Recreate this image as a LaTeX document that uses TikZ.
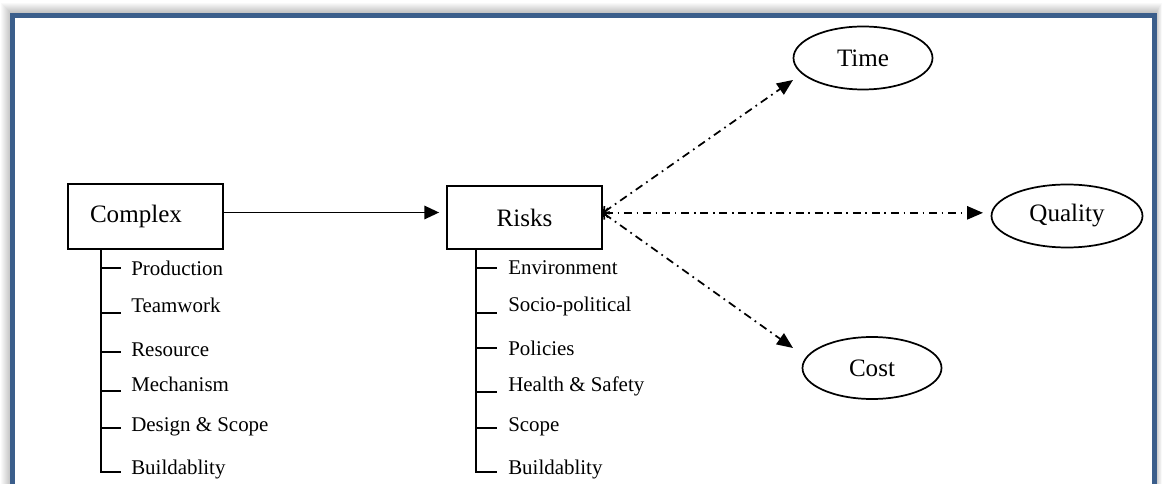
\documentclass[tikz,border=0pt]{standalone}
\usepackage{fontspec}
\setmainfont{Liberation Serif}
\usetikzlibrary{arrows.meta,shapes.geometric}
\definecolor{frameblue}{RGB}{59,94,139}
\begin{document}
\begin{tikzpicture}[x=0.75pt,y=-0.75pt,
  box/.style={draw, line width=1.3pt, rectangle, inner sep=0pt, font=\fontsize{18.8}{22}\selectfont},
  oval/.style={draw, ellipse, line width=1.3pt, inner sep=0pt, font=\fontsize{18.8}{22}\selectfont},
  lbl/.style={anchor=base west, inner sep=0pt, font=\fontsize{15.7}{18}\selectfont},
  tree/.style={line width=1.3pt},
  solidarrow/.style={line width=1.3pt, -{Triangle[length=11pt,width=10pt]}},
  dda/.style={line width=1.3pt, dash pattern=on 6pt off 3.5pt on 1.3pt off 3.5pt,
     {Straight Barb[length=3pt,width=7pt]}-{Triangle[length=12pt,width=10pt]}}]
\useasboundingbox (0,0) rectangle (1162,484);
\clip (0,0) rectangle (1162,484);
% background and shadow
\fill[white] (0,0) rectangle (1162,484);
\foreach \d in {1,...,12}
  \fill[black, opacity=0.022] (12.75-\d,15.5-\d) rectangle (1154.5+\d*0.6,500);
\fill[white] (12.75,15.5) rectangle (1154.5,500);
\draw[frameblue, line width=3.9pt] (12.75,15.5) rectangle (1154.5,520);

% main boxes
\node[box, minimum width=116.25pt, minimum height=48.75pt, text width=83.25pt,
      inner xsep=16.5pt, align=left] (complex) at (145.5,216.5) {Complex};
\node[box, minimum width=116.25pt, minimum height=47.25pt] (risks) at (524.5,217.5) {Risks};

% outcome ellipses
\node[oval, minimum width=104.25pt, minimum height=47.25pt] (time) at (863,58) {Time};
\node[oval, minimum width=113.25pt, minimum height=47.25pt] (quality) at (1067,216) {Quality};
\node[oval, minimum width=104.25pt, minimum height=46.5pt] (cost) at (872,368) {Cost};

% connectors
\coordinate (cs) at ([yshift=3pt]complex.east);
\draw[solidarrow, shorten >=5.25pt] (cs) -- (cs -| risks.west);
\coordinate (rs) at ([yshift=3.5pt]risks.east);
\coordinate (timeend) at (793,80);
\coordinate (qualityend) at (983,212);
\coordinate (costend) at (793,348);
\draw[dda] (rs) -- (timeend);
\draw[dda] (rs) -- (rs -| qualityend);
\draw[dda] (rs) -- (costend);

% Complex tree
\draw[tree] (101,249) -- (101,472) -- (121,472);
\foreach \y in {268,313,352,391,428}
  \draw[tree] (101,\y) -- (121,\y);
\node[lbl] (c1) at (131,276) {Production};
\node[lbl] (c2) at (131,312) {Teamwork};
\node[lbl] (c3) at (131,356) {Resource};
\node[lbl] (c4) at (131,391) {Mechanism};
\node[lbl] (c5) at (131,431) {Design \& Scope};
\node[lbl] (c6) at (131,474) {Buildablity};

% Risks tree
\draw[tree] (476,249) -- (476,472) -- (497,472);
\foreach \y in {268,313,348,392,428}
  \draw[tree] (476,\y) -- (497,\y);
\node[lbl] (r1) at (508,275) {Environment};
\node[lbl] (r2) at (508,311) {Socio-political};
\node[lbl] (r3) at (508,355) {Policies};
\node[lbl] (r4) at (508,391) {Health \& Safety};
\node[lbl] (r5) at (508,431) {Scope};
\node[lbl] (r6) at (508,474) {Buildablity};
\end{tikzpicture}
\end{document}
